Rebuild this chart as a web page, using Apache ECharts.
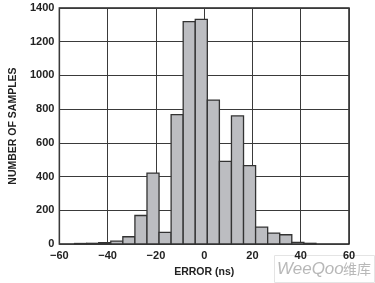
<!DOCTYPE html>
<html>
<head>
<meta charset="utf-8">
<script src="https://cdn.jsdelivr.net/npm/echarts@6/dist/echarts.min.js"></script>
<style>html,body{margin:0;padding:0;background:#fff}#c{width:375px;height:283px}</style>
</head>
<body>
<div id="c"></div>
<script>
const binStarts = [-53.7,-48.7,-43.7,-38.7,-33.7,-28.7,-23.7,-18.7,-13.7,-8.7,-3.7,1.3,6.3,11.3,16.3,21.3,26.3,31.3,36.3,41.3];
const binWidth = 5;
const counts = [3,4,8,17,43,169,421,69,768,1319,1333,854,490,760,465,100,65,55,10,4];
const xTicks = [-60,-40,-20,0,20,40,60];
const yTicks = [0,200,400,600,800,1000,1200,1400];

const data = binStarts.map((s,i)=>[s, s+binWidth, counts[i]]);
const chart = echarts.init(document.getElementById('c'));
const font = '"Liberation Sans", Arial, sans-serif';
chart.setOption({
  animation:false,
  grid:{left:51,right:26,top:8,bottom:38,show:true,borderColor:'#222',borderWidth:1.5},
  xAxis:{type:'value',min:xTicks[0],max:xTicks[xTicks.length-1],interval:20,
    name:'ERROR (ns)',nameLocation:'middle',nameGap:23,
    nameTextStyle:{fontFamily:font,fontWeight:'bold',fontSize:10.5,color:'#222'},
    axisLine:{show:false},axisTick:{show:false},
    axisLabel:{fontFamily:font,fontWeight:'bold',fontSize:11,color:'#222',margin:6,
      formatter:v=>String(v).replace('-','\u2212')},
    splitLine:{lineStyle:{color:'#3a3a3a',width:1}}},
  yAxis:{type:'value',min:yTicks[0],max:yTicks[yTicks.length-1],interval:200,
    name:'NUMBER OF SAMPLES',nameLocation:'middle',nameGap:38,
    nameTextStyle:{fontFamily:font,fontWeight:'bold',fontSize:10.5,color:'#222'},
    axisLine:{show:false},axisTick:{show:false},
    axisLabel:{fontFamily:font,fontWeight:'bold',fontSize:11,color:'#222',margin:5,
      formatter:v=>String(v)},
    splitLine:{lineStyle:{color:'#3a3a3a',width:1}}},
  series:[{type:'custom',data:data,encode:{x:[0,1],y:2},
    renderItem:(params,api)=>{
      const p0 = api.coord([api.value(0), api.value(2)]);
      const p1 = api.coord([api.value(1), 0]);
      return {type:'rect',shape:{x:p0[0],y:p0[1],width:p1[0]-p0[0],height:p1[1]-p0[1]},
        style:{fill:'#bcbdc1',stroke:'#333',lineWidth:1.3}};
    }}],
  graphic:[
    {type:'rect',left:272,top:253,shape:{width:100,height:27},style:{fill:'none',stroke:'#e4e4e4',lineWidth:1},z:-1},
    {type:'text',left:277,top:261,z:-1,style:{text:'WeeQoo',fontFamily:font,fontStyle:'italic',fontSize:17,fill:'#b8b8b8'}},
    {type:'text',left:343,top:262,z:-1,style:{text:'维库',fontFamily:'"Noto Sans CJK SC"',fontSize:14,fill:'#b8b8b8'}}
  ]
});
</script>
</body>
</html>
